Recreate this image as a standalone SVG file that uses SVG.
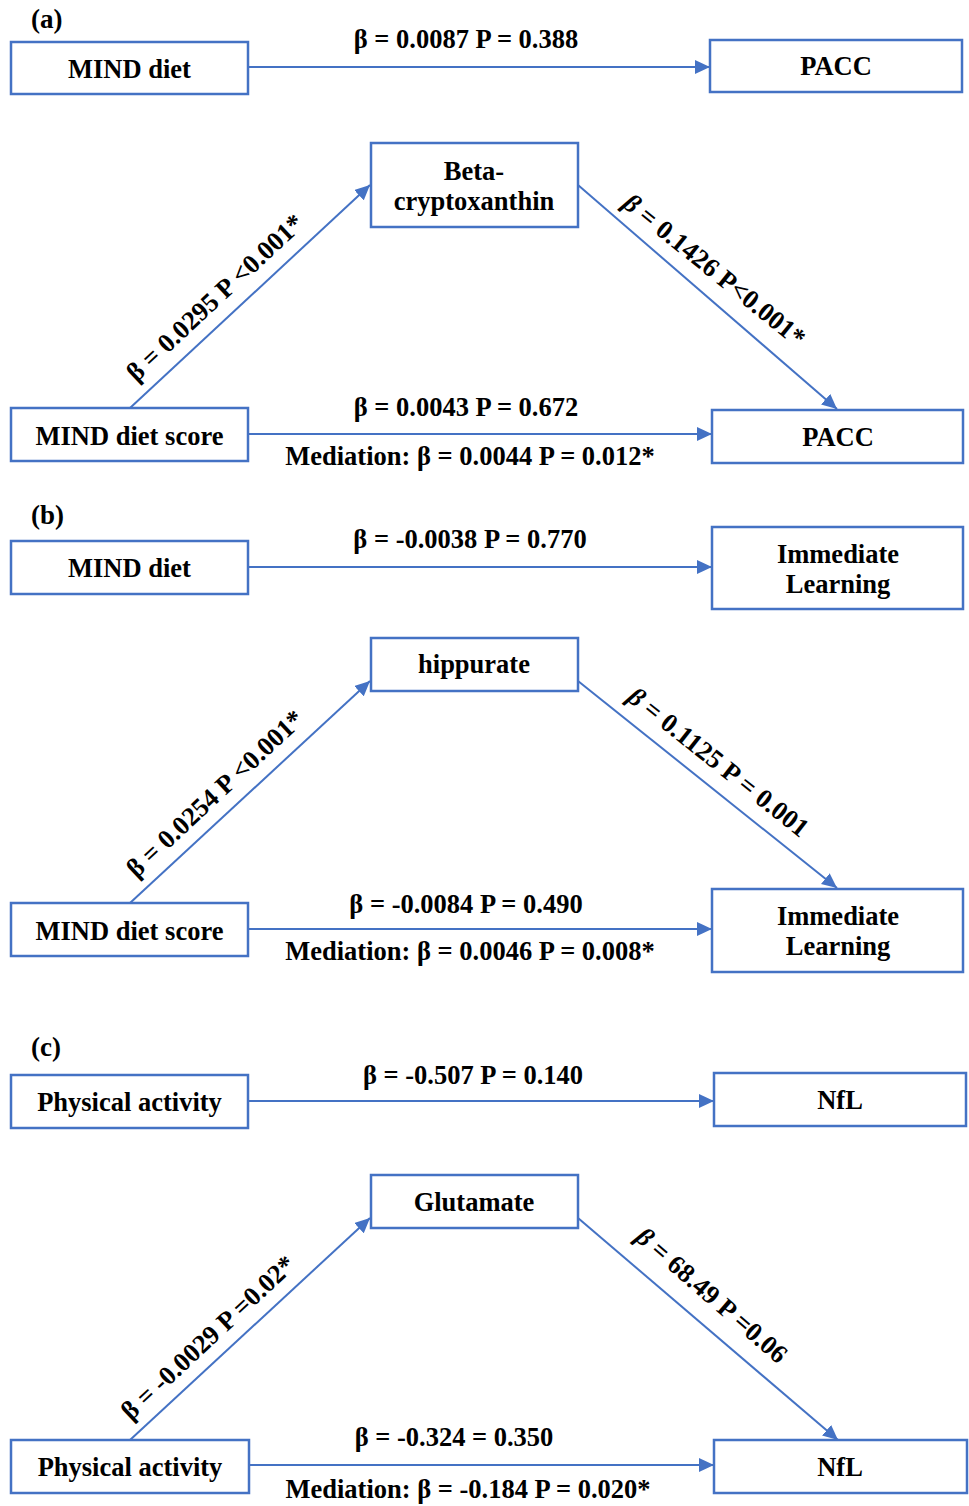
<svg xmlns="http://www.w3.org/2000/svg" width="969" height="1506" viewBox="0 0 969 1506">
<style>
.box{fill:#fff;stroke:#4472C4;stroke-width:2.5}
.t{font-family:"Liberation Serif","Times New Roman",serif;font-weight:bold;font-size:26.5px;fill:#000;text-anchor:middle}
.p{font-family:"Liberation Serif","Times New Roman",serif;font-weight:bold;font-size:27px;fill:#000}
.c{stroke:#4472C4;stroke-width:2;fill:none}
</style>
<defs>
<marker id="ah" markerUnits="userSpaceOnUse" markerWidth="16" markerHeight="14" refX="15" refY="7" orient="auto">
<path d="M0,0 L15,7 L0,14 z" fill="#4472C4"/>
</marker>
</defs>
<rect width="969" height="1506" fill="#fff"/>

<g id="connectors">
<line class="c" x1="248" y1="67" x2="710" y2="67" marker-end="url(#ah)"/>
<line class="c" x1="130" y1="408" x2="370" y2="185" marker-end="url(#ah)"/>
<line class="c" x1="578" y1="185" x2="837" y2="409" marker-end="url(#ah)"/>
<line class="c" x1="248" y1="434" x2="712" y2="434" marker-end="url(#ah)"/>

<line class="c" x1="248" y1="567" x2="712" y2="567" marker-end="url(#ah)"/>
<line class="c" x1="130" y1="903" x2="370" y2="681" marker-end="url(#ah)"/>
<line class="c" x1="578" y1="681" x2="837" y2="888" marker-end="url(#ah)"/>
<line class="c" x1="248" y1="929" x2="712" y2="929" marker-end="url(#ah)"/>

<line class="c" x1="248" y1="1101" x2="714" y2="1101" marker-end="url(#ah)"/>
<line class="c" x1="130" y1="1440" x2="370" y2="1218" marker-end="url(#ah)"/>
<line class="c" x1="578" y1="1218" x2="838" y2="1440" marker-end="url(#ah)"/>
<line class="c" x1="249" y1="1465" x2="714" y2="1465" marker-end="url(#ah)"/>

<text class="t" x="466" y="48">β = 0.0087 P = 0.388</text>
<text class="t" transform="translate(221,304) rotate(-43)">β = 0.0295 P &lt;0.001*</text>
<text class="t" transform="translate(709,277) rotate(39)"><tspan font-style="italic">β</tspan> = 0.1426 P&lt;0.001*</text>
<text class="t" x="466" y="416">β = 0.0043 P = 0.672</text>
<text class="t" x="470" y="465">Mediation: β = 0.0044 P = 0.012*</text>

<text class="t" x="470" y="548">β = -0.0038 P = 0.770</text>
<text class="t" transform="translate(221,800) rotate(-43)">β = 0.0254 P &lt;0.001*</text>
<text class="t" transform="translate(713,769) rotate(38.5)"><tspan font-style="italic">β</tspan> = 0.1125 P = 0.001</text>
<text class="t" x="466" y="913">β = -0.0084 P = 0.490</text>
<text class="t" x="470" y="960">Mediation: β = 0.0046 P = 0.008*</text>

<text class="t" x="473" y="1084">β = -0.507 P = 0.140</text>
<text class="t" transform="translate(214,1344) rotate(-43)">β = -0.0029 P =0.02*</text>
<text class="t" transform="translate(706,1302) rotate(41)"><tspan font-style="italic">β</tspan> = 68.49 P =0.06</text>
<text class="t" x="454" y="1446">β = -0.324 = 0.350</text>
<text class="t" x="468" y="1498">Mediation: β = -0.184 P = 0.020*</text>
</g>

<text class="p" x="31" y="28">(a)</text>
<text class="p" x="31" y="524">(b)</text>
<text class="p" x="31" y="1056">(c)</text>

<g id="a-mind-diet"><rect class="box" x="11" y="42" width="237" height="52"/><text class="t" x="129.5" y="78">MIND diet</text></g>
<g id="a-pacc-top"><rect class="box" x="710" y="40" width="252" height="52"/><text class="t" x="836" y="75">PACC</text></g>
<g id="a-beta"><rect class="box" x="371" y="143" width="207" height="84"/><text class="t" x="474" y="180">Beta-</text><text class="t" x="474" y="210">cryptoxanthin</text></g>
<g id="a-mind-score"><rect class="box" x="11" y="408" width="237" height="53"/><text class="t" x="129.5" y="445">MIND diet score</text></g>
<g id="a-pacc"><rect class="box" x="712" y="410" width="251" height="53"/><text class="t" x="838" y="446">PACC</text></g>

<g id="b-mind-diet"><rect class="box" x="11" y="541" width="237" height="53"/><text class="t" x="129.5" y="577">MIND diet</text></g>
<g id="b-imm-top"><rect class="box" x="712" y="527" width="251" height="82"/><text class="t" x="838" y="563">Immediate</text><text class="t" x="838" y="593">Learning</text></g>
<g id="b-hippurate"><rect class="box" x="371" y="638" width="207" height="53"/><text class="t" x="474" y="673">hippurate</text></g>
<g id="b-mind-score"><rect class="box" x="11" y="903" width="237" height="53"/><text class="t" x="129.5" y="940">MIND diet score</text></g>
<g id="b-imm"><rect class="box" x="712" y="889" width="251" height="83"/><text class="t" x="838" y="925">Immediate</text><text class="t" x="838" y="955">Learning</text></g>

<g id="c-pa-top"><rect class="box" x="11" y="1075" width="237" height="53"/><text class="t" x="129.5" y="1111">Physical activity</text></g>
<g id="c-nfl-top"><rect class="box" x="714" y="1073" width="252" height="53"/><text class="t" x="840" y="1109">NfL</text></g>
<g id="c-glutamate"><rect class="box" x="371" y="1175" width="207" height="53"/><text class="t" x="474" y="1211">Glutamate</text></g>
<g id="c-pa"><rect class="box" x="11" y="1440" width="238" height="53"/><text class="t" x="130" y="1476">Physical activity</text></g>
<g id="c-nfl"><rect class="box" x="714" y="1440" width="253" height="53"/><text class="t" x="840" y="1476">NfL</text></g>
</svg>
